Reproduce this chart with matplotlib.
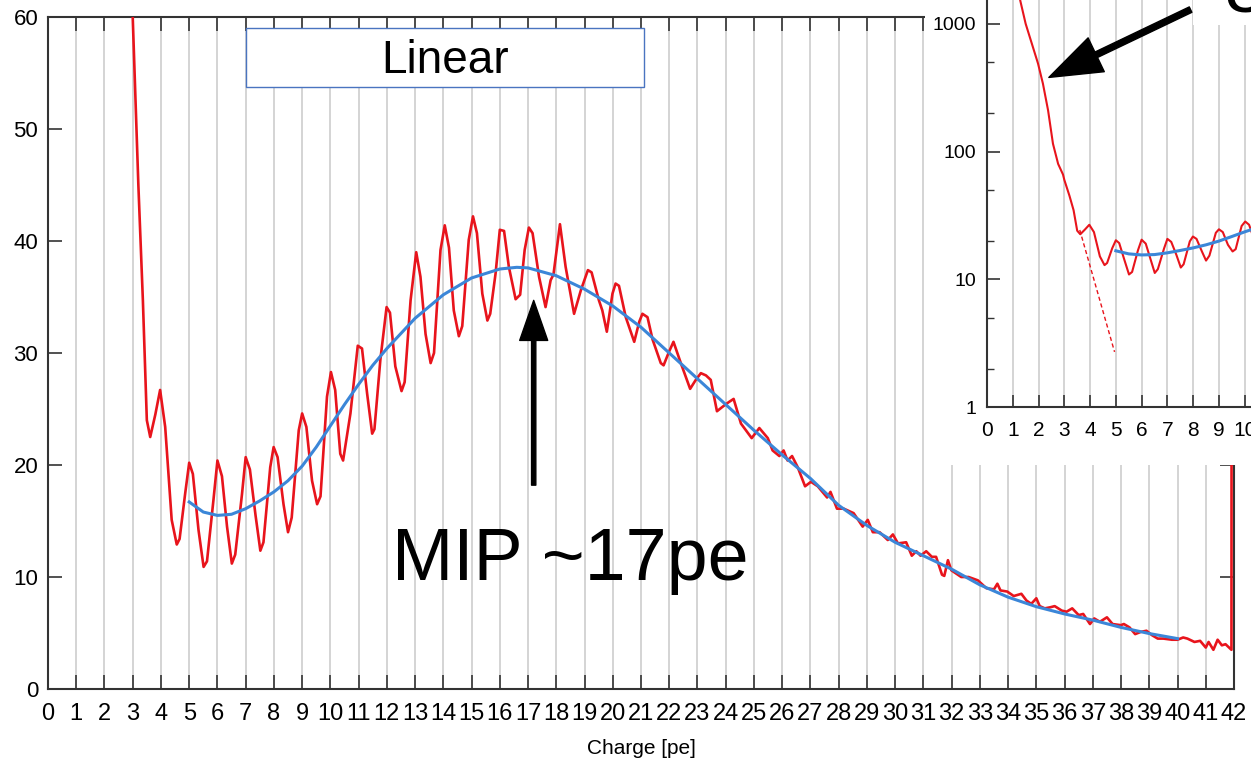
import numpy as np
import matplotlib
matplotlib.use("Agg")
import matplotlib.pyplot as plt
from matplotlib.patches import Rectangle

# charge spectrum (x in pe, counts)
red_pts = [(1.2, 2000), (1.29, 1520), (1.5, 1000), (1.66, 787), (1.98, 488), (2.17, 340),
           (2.37, 210), (2.56, 115), (2.76, 80), (2.95, 66), (3.0, 60), (3.2, 45),
           (3.36, 34.7), (3.5, 24.0), (3.62, 22.5), (3.8, 24.5), (3.97, 26.7), (4.15, 23.4),
           (4.38, 15.1), (4.56, 12.9), (4.66, 13.4), (4.86, 17.5), (5.0, 20.2), (5.13, 19.2),
           (5.33, 14.2), (5.51, 10.9), (5.63, 11.4), (5.86, 16.9), (6.0, 20.4), (6.16, 19.0),
           (6.34, 14.5), (6.51, 11.2), (6.63, 12.0), (6.87, 17.4), (7.0, 20.7), (7.15, 19.6),
           (7.35, 15.5), (7.52, 12.35), (7.63, 13.1), (7.87, 19.8), (7.99, 21.6), (8.13, 20.7),
           (8.34, 16.5), (8.5, 14.0), (8.63, 15.3), (8.88, 23.1), (9.0, 24.6), (9.15, 23.4),
           (9.35, 18.6), (9.53, 16.5), (9.65, 17.2), (9.88, 26.1), (10.02, 28.3), (10.17, 26.7),
           (10.35, 21.0), (10.45, 20.4), (10.71, 24.6), (10.97, 30.65), (11.12, 30.4), (11.3, 26.4),
           (11.48, 22.8), (11.56, 23.2), (11.77, 29.4), (11.99, 34.1), (12.11, 33.6), (12.3, 28.8),
           (12.52, 26.6), (12.63, 27.4), (12.84, 34.7), (13.04, 39.0), (13.19, 36.8), (13.37, 31.7),
           (13.55, 29.1), (13.67, 30.0), (13.9, 39.2), (14.05, 41.4), (14.2, 39.4), (14.37, 33.8),
           (14.55, 31.5), (14.67, 32.4), (14.9, 40.1), (15.05, 42.2), (15.19, 40.7), (15.38, 35.3),
           (15.56, 32.9), (15.66, 33.5), (15.85, 37.1), (16.0, 41.0), (16.15, 40.9), (16.32, 37.7),
           (16.56, 34.8), (16.72, 35.2), (16.88, 39.2), (17.03, 41.2), (17.16, 40.7), (17.39, 36.8),
           (17.62, 34.1), (17.8, 36.5), (17.9, 37.0), (18.13, 41.5), (18.33, 37.7), (18.63, 33.5),
           (18.87, 35.6), (19.12, 37.4), (19.25, 37.2), (19.51, 34.7), (19.63, 33.8), (19.79, 31.9),
           (19.99, 35.3), (20.1, 36.2), (20.22, 36.0), (20.46, 33.2), (20.76, 31.0), (20.94, 32.8),
           (21.05, 33.5), (21.23, 33.2), (21.41, 31.2), (21.7, 29.1), (21.8, 28.9), (21.99, 30.1),
           (22.15, 31.0), (22.41, 29.1), (22.74, 26.8), (22.94, 27.6), (23.12, 28.2), (23.3, 28.0),
           (23.47, 27.6), (23.69, 24.8), (23.89, 25.2), (24.1, 25.6), (24.28, 25.9), (24.54, 23.7),
           (24.92, 22.4), (25.19, 23.3), (25.49, 22.4), (25.66, 21.3), (25.9, 20.8), (26.05, 21.3),
           (26.19, 20.4), (26.35, 20.8), (26.55, 19.8), (26.81, 18.1), (27.02, 18.5), (27.26, 18.1),
           (27.59, 17.1), (27.71, 17.6), (27.94, 16.1), (28.18, 16.1), (28.53, 15.7), (28.85, 14.5),
           (29.03, 15.1), (29.21, 14.0), (29.45, 14.0), (29.74, 13.3), (29.92, 13.8), (30.1, 13.0),
           (30.39, 13.1), (30.59, 11.9), (30.75, 12.3), (30.9, 11.9), (31.1, 12.3), (31.3, 11.8),
           (31.45, 11.8), (31.66, 10.2), (31.74, 10.1), (31.87, 11.5), (31.99, 10.6), (32.34, 10.0),
           (32.6, 10.0), (32.93, 9.7), (33.23, 9.0), (33.5, 8.9), (33.62, 9.4), (33.73, 8.8),
           (33.97, 8.7), (34.2, 8.3), (34.47, 8.5), (34.65, 7.9), (34.82, 7.6), (35.0, 8.1),
           (35.12, 7.4), (35.3, 7.2), (35.5, 7.3), (35.65, 7.4), (35.9, 7.0), (36.07, 6.9),
           (36.27, 7.2), (36.5, 6.6), (36.66, 6.7), (36.9, 5.8), (37.05, 6.3), (37.25, 6.0),
           (37.5, 6.4), (37.7, 5.8), (37.99, 5.7), (38.1, 5.8), (38.3, 5.5), (38.5, 4.9),
           (38.7, 5.1), (38.9, 5.2), (39.1, 4.8), (39.3, 4.5), (39.5, 4.5), (39.8, 4.4),
           (40.0, 4.4), (40.2, 4.6), (40.35, 4.5), (40.6, 4.2), (40.8, 4.3), (41.0, 3.7),
           (41.1, 4.2), (41.27, 3.5), (41.42, 4.4), (41.57, 3.9), (41.7, 4.0), (41.91, 3.5),
           (41.93, 120)]
red_x = [p[0] for p in red_pts]
red_y = [p[1] for p in red_pts]

# fitted curve (blue)
fit_x = [5, 5.5, 6, 6.5, 7, 7.5, 8, 8.5, 9, 9.5, 10, 10.5, 11, 11.5, 12, 13, 14, 15, 16, 16.6, 17,
         18, 19, 20, 21, 22, 23, 24, 25, 26, 27, 28, 29, 30, 31, 32, 33, 34, 35, 36, 37, 38, 39, 40]
fit_y = [16.7, 15.8, 15.5, 15.6, 16.1, 16.8, 17.6, 18.6, 19.9, 21.6, 23.5, 25.4, 27.2, 28.9, 30.4,
         33.1, 35.2, 36.7, 37.5, 37.65, 37.6, 36.9, 35.7, 34.2, 32.3, 30.0, 27.7, 25.4, 23.1, 20.9,
         18.8, 16.4, 14.6, 13.1, 11.9, 10.7, 9.3, 8.2, 7.35, 6.7, 6.15, 5.5, 4.95, 4.5]

# dashed extrapolation in the log inset
extrap_x = [3.6, 4.95]
extrap_y = [24.3, 2.7]

xticks = list(range(0, 43))
yticks = [0, 10, 20, 30, 40, 50, 60]
log_xticks = list(range(0, 21))
log_yticks = [1, 10, 100, 1000]

RED = "#e8141c"
BLUE = "#3b86d8"
W, H = 1251, 762
font = "Liberation Sans"

fig = plt.figure(figsize=(W / 100, H / 100), dpi=100)
ax = fig.add_axes([48 / W, 1 - 689 / H, (1234 - 48) / W, (689 - 17) / H])

for xv in xticks[1:]:
    ax.axvline(xv, color="#d4d4d4", lw=1.4, zorder=0)
ax.plot(red_x, red_y, color=RED, lw=1.9, zorder=3)
ax.plot(fit_x, fit_y, color=BLUE, lw=2.2, zorder=4)

ax.set_xlim(0, 42)
ax.set_ylim(0, 60)
ax.set_xticks(xticks)
ax.set_yticks(yticks)
ax.tick_params(direction="in", length=10, width=1.2, color="#333333", top=True, right=True)
ax.tick_params(axis="x", labelsize=17, pad=10)
ax.tick_params(axis="y", labelsize=16, pad=7)
for lab in ax.get_xticklabels() + ax.get_yticklabels():
    lab.set_family(font)
for s in ax.spines.values():
    s.set_color("#333333")
    s.set_linewidth(1.5)
ax.set_xlabel("Charge [pe]", fontsize=15, family=font, labelpad=10)

# "Linear" label box
ax.add_patch(Rectangle((246 / W, 1 - 87 / H), (644 - 246) / W, (87 - 28) / H,
                       transform=fig.transFigure, fc="white", ec="#4a74c0", lw=1.0, zorder=5))
ax.text(0.335, 0.935, "Linear", transform=ax.transAxes, ha="center", va="center", fontsize=33,
        family=font, zorder=6)

# MIP annotation
ax.annotate("", xy=(17.2, 34.7), xytext=(17.2, 18.2),
            arrowprops=dict(arrowstyle="simple,head_length=1.03,head_width=0.72,tail_width=0.11",
                            color="black", mutation_scale=28, shrinkA=0, shrinkB=0), zorder=6)
ax.text(18.5, 9.7, "MIP ~17pe", ha="center", va="baseline", fontsize=53, family=font, zorder=6)

# white backing of the pasted log inset
fig.patches.append(Rectangle((925 / W, 1 - 465 / H), 1, 1, transform=fig.transFigure,
                             fc="white", ec="none", zorder=1))

axi = fig.add_axes([987 / W, 1 - 407 / H, 20 * 25.77 / W, (407 + 104) / H], zorder=2)
axi.set_facecolor("white")
for xv in log_xticks[1:]:
    axi.axvline(xv, color="#d4d4d4", lw=1.4, zorder=0)
axi.plot(red_x, red_y, color=RED, lw=1.5, zorder=3)
axi.plot(extrap_x, extrap_y, color=RED, lw=1.0, ls=(0, (3, 2)), zorder=3)
axi.plot(fit_x, fit_y, color=BLUE, lw=2.2, zorder=4)
axi.set_yscale("log")
axi.set_xlim(0, 20)
axi.set_ylim(1, 1e4)
axi.set_xticks(log_xticks)
axi.set_xticklabels([str(v) if v <= 10 else "" for v in log_xticks])
axi.set_yticks(log_yticks)
axi.set_yticklabels([str(v) for v in log_yticks])
axi.yaxis.set_minor_locator(matplotlib.ticker.LogLocator(base=10, subs=(2, 5)))
axi.yaxis.set_minor_formatter(matplotlib.ticker.NullFormatter())
axi.tick_params(which="major", direction="in", length=9, width=1.2, color="#333333", pad=8)
axi.tick_params(axis="x", labelsize=15, pad=10)
axi.tick_params(axis="y", labelsize=14)
axi.tick_params(which="minor", direction="in", length=5, width=1.0, color="#333333")
for lab in axi.get_xticklabels() + axi.get_yticklabels():
    lab.set_family(font)
for s in axi.spines.values():
    s.set_color("#333333")
    s.set_linewidth(1.5)

# arrow and label inside the inset
axi.annotate("", xy=(2.4, 380), xytext=(7.9, 1290),
             arrowprops=dict(arrowstyle="simple,head_length=1.05,head_width=0.75,tail_width=0.12",
                             color="black", mutation_scale=36, shrinkA=0, shrinkB=0), zorder=6)
fig.patches.append(Rectangle((1193 / W, 1 - 25 / H), 1, 1, transform=fig.transFigure,
                             fc="white", ec="none", zorder=5))
fig.text(1224 / W, 1 - 12 / H, "3pe", ha="left", va="baseline", fontsize=53,
         family=font, zorder=6)

fig.savefig("out.png", dpi=100)
